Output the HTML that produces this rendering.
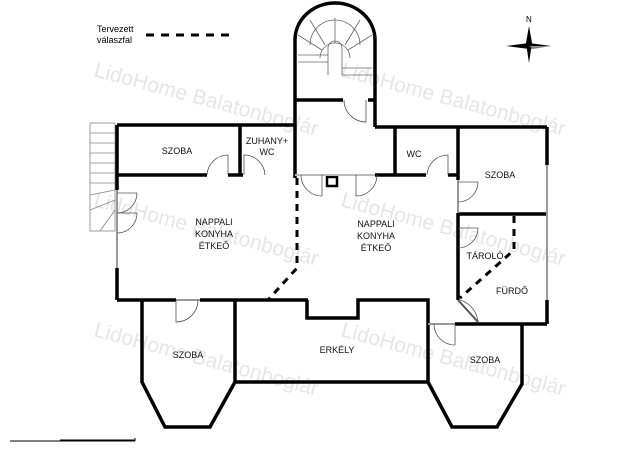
<!DOCTYPE html>
<html><head><meta charset="utf-8"><style>
html,body{margin:0;padding:0;background:#fff;}
svg{display:block;}
text{font-family:"Liberation Sans",sans-serif;}
</style></head><body>
<svg width="640" height="452" viewBox="0 0 640 452" xmlns="http://www.w3.org/2000/svg">
<rect width="640" height="452" fill="#fff"/>
<!-- watermarks -->
<g fill="#e6e6e6" font-size="21">
<text x="93" y="76" transform="rotate(15 93 76)">LidoHome Balatonboglár</text>
<text x="340" y="76" transform="rotate(15 340 76)">LidoHome Balatonboglár</text>
<text x="93" y="206" transform="rotate(15 93 206)">LidoHome Balatonboglár</text>
<text x="340" y="206" transform="rotate(15 340 206)">LidoHome Balatonboglár</text>
<text x="93" y="336" transform="rotate(15 93 336)">LidoHome Balatonboglár</text>
<text x="340" y="336" transform="rotate(15 340 336)">LidoHome Balatonboglár</text>
</g>
<!-- legend -->
<text x="97" y="32" font-size="9">Tervezett</text>
<text x="97" y="43" font-size="9">válaszfal</text>
<line x1="146" y1="35" x2="230" y2="35" stroke="#000" stroke-width="3" stroke-dasharray="8,7"/>
<!-- compass -->
<text x="526" y="22" font-size="8">N</text>
<polygon points="529,26 532,43 529,63 526,43" fill="#000"/>
<polygon points="506,46 529,43 551,46 529,49" fill="#000"/>
<polygon points="529,46 551,46 533,49" fill="#888"/>
<!-- stair tower -->
<g fill="none" stroke="#000" stroke-width="3.5">
<path d="M295,40 A40,37 0 0 1 375,40"/>
<line x1="295" y1="40" x2="295" y2="178"/>
<line x1="375" y1="40" x2="375" y2="127"/>
<line x1="295" y1="100" x2="343" y2="100"/>
<line x1="368" y1="100" x2="375" y2="100"/>
</g>
<g fill="none" stroke="#666" stroke-width="0.8">
<path d="M310,45 A25,25 0 0 1 360,45"/>
<path d="M320,58 A15,15 0 0 1 350,58"/>
<path d="M328,62 L328,48 A7,7 0 0 1 342,48 L342,62"/>
<line x1="335" y1="18" x2="335" y2="43"/><line x1="310" y1="20" x2="325" y2="45"/><line x1="360" y1="20" x2="345" y2="45"/>
<line x1="298" y1="35" x2="322" y2="50"/><line x1="372" y1="35" x2="348" y2="50"/>
<line x1="298" y1="55" x2="328" y2="55"/><line x1="298" y1="62" x2="328" y2="62"/>
<line x1="342" y1="68" x2="372" y2="68"/><line x1="342" y1="75" x2="372" y2="75"/>
<line x1="328" y1="62" x2="328" y2="75"/><line x1="342" y1="62" x2="342" y2="75"/>
</g>
<!-- left stairs -->
<g fill="none" stroke="#888" stroke-width="0.8">
<rect x="90" y="123" width="25" height="108"/>
<line x1="90" y1="133" x2="115" y2="133"/><line x1="90" y1="143" x2="115" y2="143"/><line x1="90" y1="153" x2="115" y2="153"/><line x1="90" y1="163" x2="115" y2="163"/><line x1="90" y1="173" x2="115" y2="173"/><line x1="90" y1="183" x2="115" y2="183"/>
<line x1="90" y1="195" x2="115" y2="190"/><line x1="90" y1="210" x2="115" y2="200"/><line x1="100" y1="231" x2="115" y2="210"/>
</g>
<!-- main walls -->
<g fill="none" stroke="#000" stroke-width="3.5">
<line x1="117" y1="125" x2="295" y2="125"/>
<line x1="117" y1="125" x2="117" y2="190"/>
<line x1="117" y1="268" x2="117" y2="300"/>
<line x1="240" y1="125" x2="240" y2="175"/>
<line x1="117" y1="175" x2="207" y2="175"/>
<line x1="228" y1="175" x2="243" y2="175"/>
<line x1="375" y1="127" x2="547" y2="127"/>
<line x1="395" y1="127" x2="395" y2="175"/>
<line x1="458" y1="127" x2="458" y2="180"/>
<line x1="458" y1="213" x2="458" y2="300"/>
<line x1="547" y1="127" x2="547" y2="165"/>
<line x1="375" y1="175" x2="426" y2="175"/>
<line x1="448" y1="175" x2="458" y2="175"/>
<line x1="458" y1="214" x2="547" y2="214"/>
<line x1="547" y1="300" x2="547" y2="324"/>
<line x1="117" y1="300" x2="176" y2="300"/>
<line x1="200" y1="300" x2="308" y2="300"/>
<polyline points="307,300 307,318 358,318 358,300 428,300 428,382 452,427 497,427 522,384 522,324"/>
<line x1="455" y1="324" x2="547" y2="324"/>
<polyline points="142,300 142,382 165,427 210,427 235,382 235,300"/>
<line x1="235" y1="382" x2="428" y2="382"/>
<rect x="327" y="177" width="10" height="9" stroke-width="2.5"/>
</g>
<!-- windows (gray) -->
<g stroke="#999" stroke-width="2">
<line x1="117" y1="190" x2="117" y2="268"/>
<line x1="547" y1="165" x2="547" y2="300"/>
<line x1="458" y1="180" x2="458" y2="213"/>
<line x1="176" y1="300" x2="200" y2="300"/>
<line x1="428" y1="324" x2="455" y2="324"/>
<line x1="295" y1="175" x2="375" y2="175" stroke="#bbb"/>
</g>
<line x1="458" y1="300" x2="478" y2="322" stroke="#555" stroke-width="2"/>
<!-- doors -->
<g fill="none" stroke="#555" stroke-width="0.8">
<path d="M228,175 L228,155 A21,21 0 0 0 207,175"/>
<path d="M244,175 L244,155 A21,21 0 0 1 265,175"/>
<path d="M366,100 L366,122 A22,22 0 0 1 344,100"/>
<path d="M448,175 L448,155 A21,21 0 0 0 427,175"/>
<path d="M322,175 L322,196 A21,21 0 0 1 301,175"/>
<path d="M356,175 L356,196 A21,21 0 0 0 377,175"/>
<path d="M458,182 L478,182 A20,20 0 0 1 458,202"/>
<path d="M458,228 L478,228 A20,20 0 0 1 458,248"/>
<path d="M176,300 L176,322 A22,22 0 0 0 198,300"/>
<path d="M455,324 L455,345 A21,21 0 0 1 434,324"/>
<path d="M460,300 A25,25 0 0 1 478,322"/>
<path d="M117,193 L137,193 A20,20 0 0 1 117,213"/>
<path d="M117,213 L137,213 A20,20 0 0 1 117,233"/>
</g>
<!-- dashed partitions -->
<g fill="none" stroke="#000" stroke-width="3" stroke-dasharray="7,6">
<polyline points="297,178 297,268 268,300"/>
<polyline points="514,216 514,250 460,298"/>
</g>
<!-- scale -->
<g stroke="#000" stroke-width="1">
<line x1="10" y1="441" x2="135" y2="441"/>
<line x1="60" y1="440" x2="135" y2="440"/>
<line x1="135" y1="438" x2="135" y2="441"/>
</g>
<!-- labels -->
<g font-size="9" text-anchor="middle" fill="#111">
<text x="177" y="154">SZOBA</text>
<text x="267" y="144">ZUHANY+</text>
<text x="267" y="155">WC</text>
<text x="414" y="157">WC</text>
<text x="500" y="178">SZOBA</text>
<text x="214" y="225">NAPPALI</text>
<text x="214" y="237">KONYHA</text>
<text x="214" y="249">ÉTKEŐ</text>
<text x="376" y="227">NAPPALI</text>
<text x="376" y="239">KONYHA</text>
<text x="376" y="251">ÉTKEŐ</text>
<text x="485" y="259">TÁROLÓ</text>
<text x="512" y="294">FÜRDŐ</text>
<text x="188" y="358">SZOBA</text>
<text x="337" y="353">ERKÉLY</text>
<text x="485" y="363">SZOBA</text>
</g>
</svg>
</body></html>
